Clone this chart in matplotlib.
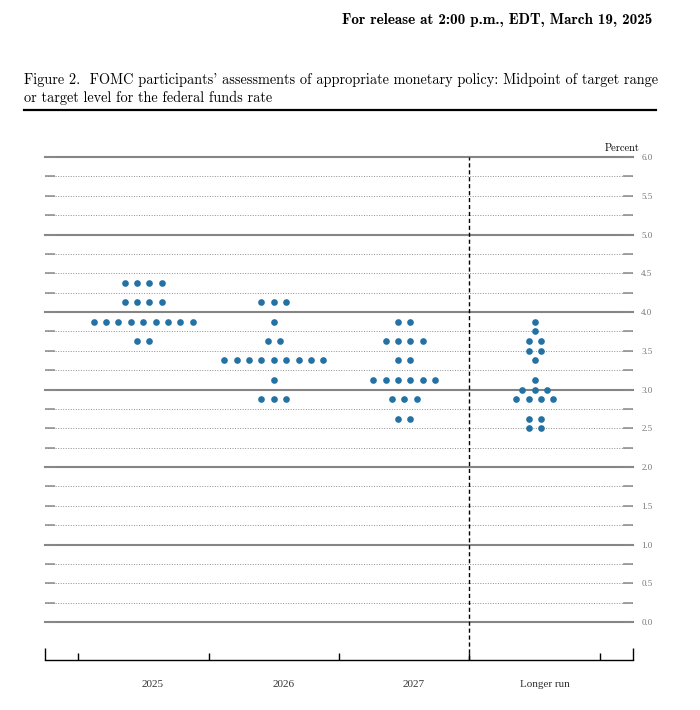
import numpy as np
import matplotlib
matplotlib.use("Agg")
import matplotlib.pyplot as plt
from matplotlib.lines import Line2D

# dot plot data: midpoint of target range, number of participants at each level
categories = ["2025", "2026", "2027", "Longer run"]

rates_2025 = [4.375, 4.125, 3.875, 3.625]
counts_2025 = [4, 4, 9, 2]

rates_2026 = [4.125, 3.875, 3.625, 3.375, 3.125, 2.875]
counts_2026 = [3, 1, 2, 9, 1, 3]

rates_2027 = [3.875, 3.625, 3.375, 3.125, 2.875, 2.625]
counts_2027 = [2, 4, 2, 6, 3, 2]

rates_lr = [3.875, 3.75, 3.625, 3.5, 3.375, 3.125, 3.0, 2.875, 2.625, 2.5]
counts_lr = [1, 1, 2, 2, 1, 1, 3, 4, 2, 2]

all_rates = [rates_2025, rates_2026, rates_2027, rates_lr]
all_counts = [counts_2025, counts_2026, counts_2027, counts_lr]

y_major = np.arange(0, 6.01, 0.5)
y_minor = np.arange(0.25, 6.0, 0.5)

dot_color = "#2471a3"
dot_gap = 0.095

W, H = 700, 710
fig = plt.figure(figsize=(W / 100, H / 100), dpi=100)

# header and title
fig.text(652 / W, 1 - 20 / H, "For release at 2:00 p.m., EDT, March 19, 2025",
         ha="right", va="center", family="cmb10", fontsize=10.9)
fig.text(24 / W, 1 - 80 / H,
         "Figure 2.  FOMC participants' assessments of appropriate monetary policy: Midpoint of target range",
         ha="left", va="center", family="cmr10", fontsize=10.3)
fig.text(24 / W, 1 - 98 / H, "or target level for the federal funds rate",
         ha="left", va="center", family="cmr10", fontsize=10.3)
fig.add_artist(Line2D([24 / W, 656 / W], [1 - 109.5 / H] * 2, color="black", lw=1.6))
fig.text(622 / W, 1 - 148 / H, "Percent", ha="center", va="center",
         family="cmr10", fontsize=7.5)

ax = fig.add_axes([45 / W, 50 / H, 588 / W, 503 / H])
ax.set_xlim(0.247, 4.753)
ax.set_ylim(-0.49, 6.0)

for s in ["left", "right", "top"]:
    ax.spines[s].set_visible(False)
ax.spines["bottom"].set_linewidth(1.0)

# horizontal rules: solid at whole percents, dotted otherwise
for y in np.arange(0, 6.01, 0.25):
    if y % 1 == 0:
        ax.axhline(y, color="#858585", lw=1.5, clip_on=False, zorder=1)
    else:
        ax.axhline(y, color="#8f8f8f", lw=0.7, ls=(0, (1, 1.6)), zorder=1)

ax.axvline(3.5, color="black", lw=1.0, ls=(0, (3, 2)), clip_on=False, zorder=2)

# y ticks on both sides, labels on the right
ax.yaxis.set_ticks_position("both")
ax.set_yticks(y_major)
ax.set_yticklabels(["%.1f" % v for v in y_major])
ax.set_yticks(y_minor, minor=True)
ax.tick_params(axis="y", which="both", direction="in", length=7, width=1.1,
               color="#8a8a8a", labelleft=False, labelright=True,
               labelsize=6.5, labelcolor="#777777", pad=6)
for lab in ax.get_yticklabels():
    lab.set_family("Liberation Serif")

# x axis: boundary ticks, tall end ticks
ax.set_xticks([0.5, 1.5, 2.5, 3.5, 4.5])
ax.set_xticklabels([])
ax.set_xticks([0.247, 4.753], minor=True)
ax.tick_params(axis="x", which="major", direction="in", length=5, width=1)
ax.tick_params(axis="x", which="minor", direction="in", length=9, width=1)

for i, name in enumerate(categories):
    ax.text(i + 1 + 0.075, -0.80, name, ha="center", va="center",
            family="Liberation Serif", fontsize=8, color="#333333", clip_on=False)

# dots
for i, (rates, counts) in enumerate(zip(all_rates, all_counts)):
    xs, ys = [], []
    for r, n in zip(rates, counts):
        for k in range(n):
            xs.append(i + 1 + (k - (n - 1) / 2) * dot_gap)
            ys.append(r)
    ax.plot(xs, ys, "o", ms=4.8, mew=0, color=dot_color, zorder=3)

fig.savefig("out.png", dpi=100, facecolor="white")
